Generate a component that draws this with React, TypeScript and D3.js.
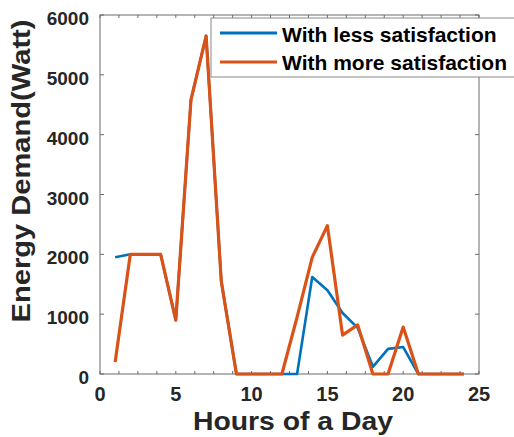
import React from 'react';
import * as d3 from 'd3';

// hours 1..24
const hours = [1, 2, 3, 4, 5, 6, 7, 8, 9, 10, 11, 12, 13, 14, 15, 16, 17, 18, 19, 20, 21, 22, 23, 24];
const lessSatisfaction = [1950, 2000, 2000, 2000, 900, 4580, 5650, 1550, 0, 0, 0, 0, 0, 1620, 1400, 1020, 770, 120, 420, 450, 0, 0, 0, 0];
const moreSatisfaction = [200, 2000, 2000, 2000, 900, 4580, 5650, 1550, 0, 0, 0, 0, 950, 1950, 2480, 650, 820, 0, 0, 785, 0, 0, 0, 0];
const xTicks = [0, 5, 10, 15, 20, 25];
const yTicks = [0, 1000, 2000, 3000, 4000, 5000, 6000];
const seriesNames = ['With less satisfaction', 'With more satisfaction'];
const colors = ['#0072BD', '#D95319'];

const W = 514;
const H = 437;
const font = '"Liberation Sans", Arial, sans-serif';

export default function App() {
    const x = d3.scaleLinear().domain([0, 25]).range([100, 479]);
    const y = d3.scaleLinear().domain([0, 6000]).range([374, 15]);

    const line = d3.line<number>()
        .x((d, i) => x(hours[i]))
        .y(d => y(d));

    // minor ticks every 1.25 h like the original
    const minorX = d3.range(0, 25.01, 1.25);
    const axisColor = '#6b6b6b';

    return (
        <svg width={W} height={H} style={{ position: 'absolute', left: 0, top: 0, background: '#fff' }}>
            {/* box */}
            <rect x={x(0)} y={y(6000)} width={x(25) - x(0)} height={y(0) - y(6000)} fill="none" stroke={axisColor} strokeWidth={1} />

            {/* x ticks (bottom and top, inward) */}
            {minorX.map(t => (
                <g key={'xt' + t} stroke={axisColor}>
                    <line x1={x(t)} x2={x(t)} y1={y(0)} y2={y(0) - 3} />
                    <line x1={x(t)} x2={x(t)} y1={y(6000)} y2={y(6000) + 3} />
                </g>
            ))}
            {/* y ticks (left and right, inward) */}
            {yTicks.map(t => (
                <g key={'yt' + t} stroke={axisColor}>
                    <line x1={x(0)} x2={x(0) + 4} y1={y(t)} y2={y(t)} />
                    <line x1={x(25)} x2={x(25) - 4} y1={y(t)} y2={y(t)} />
                </g>
            ))}

            {/* series: blue a bit thinner so it hides under the orange where they coincide */}
            <path d={line(lessSatisfaction) || ''} fill="none" stroke={colors[0]} strokeWidth={2.6} strokeLinejoin="round" />
            <path d={line(moreSatisfaction) || ''} fill="none" stroke={colors[1]} strokeWidth={3.2} strokeLinejoin="round" />

            {/* tick labels */}
            {xTicks.map(t => (
                <text key={'xl' + t} x={x(t)} y={401} textAnchor="middle" fontFamily={font} fontWeight="bold" fontSize={20} fill="#262626">{t}</text>
            ))}
            {yTicks.map(t => (
                <text key={'yl' + t} x={89} y={y(t) + 10} textAnchor="end" fontFamily={font} fontWeight="bold" fontSize={19} fill="#262626">{t}</text>
            ))}

            {/* axis labels */}
            <text x={293} y={430} textAnchor="middle" fontFamily={font} fontWeight="bold" fontSize={25} textLength={200} lengthAdjust="spacingAndGlyphs" fill="#262626">Hours of a Day</text>
            <text transform="translate(30,171) rotate(-90)" textAnchor="middle" fontFamily={font} fontWeight="bold" fontSize={25} textLength={303} lengthAdjust="spacingAndGlyphs" fill="#262626">Energy Demand(Watt)</text>

            {/* legend */}
            <rect x={211} y={18} width={320} height={59} fill="#fff" stroke="#888" strokeWidth={1} />
            {seriesNames.map((name, i) => (
                <g key={name}>
                    <line x1={220} x2={277} y1={33 + i * 29} y2={33 + i * 29} stroke={colors[i]} strokeWidth={3} />
                    <text x={282} y={42 + i * 28} fontFamily={font} fontWeight="bold" fontSize={21} fill="#000">{name}</text>
                </g>
            ))}
        </svg>
    );
}
